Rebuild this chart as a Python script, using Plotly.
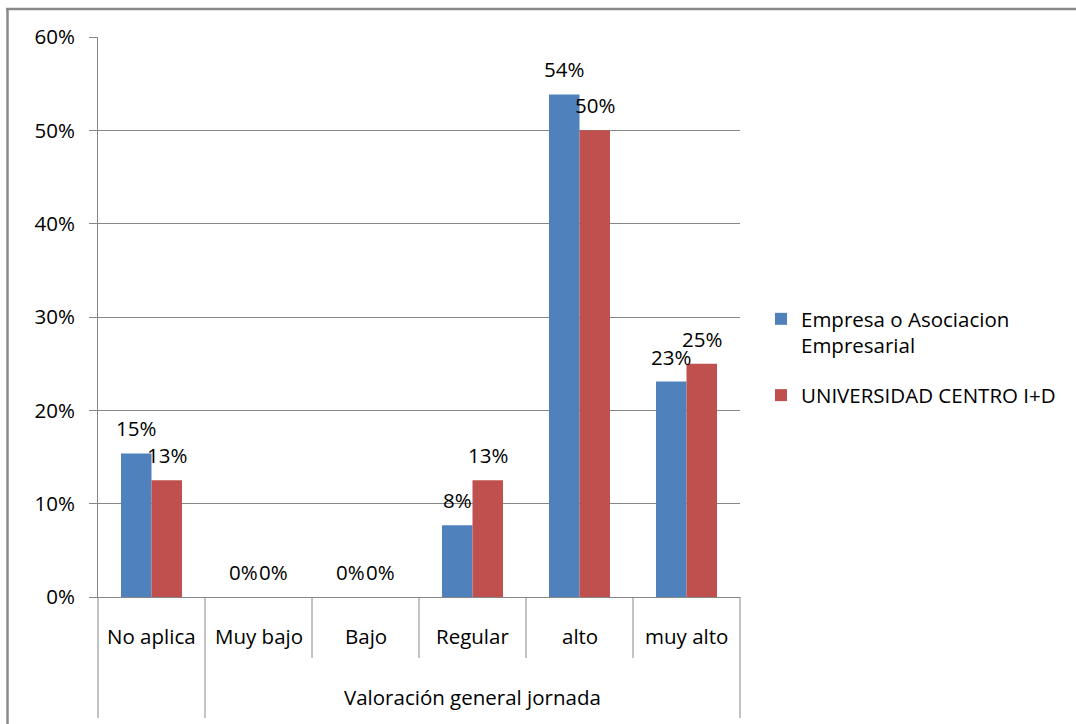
import plotly.graph_objects as go

# ---- data ----
categories = ["No aplica", "Muy bajo", "Bajo", "Regular", "alto", "muy alto"]
group_labels = ["", "Valoración general jornada"]
group_sizes = [1, 5]
series_names = ["Empresa o Asociacion<br>Empresarial", "UNIVERSIDAD CENTRO I+D"]
empresa = [0.1538, 0.0, 0.0, 0.0769, 0.5385, 0.2308]
universidad = [0.125, 0.0, 0.0, 0.125, 0.50, 0.25]
y_ticks = [0, 0.1, 0.2, 0.3, 0.4, 0.5, 0.6]

BLUE = "#4F81BD"
RED = "#C0504D"
GRID = "#868686"
FONT = "Open Sans"
FS = 20.5

W, H = 1076, 724
ML, MR, MT, MB = 98, 336, 37, 127
PW = W - ML - MR
PH = H - MT - MB


def px2paper_x(px):
    return (px - ML) / PW


def px2paper_y(py):
    return (H - MB - py) / PH


def pct(v):
    return f"{int(v * 100 + 0.5)}%"


fig = go.Figure()
for i, (name, vals, col) in enumerate([(series_names[0], empresa, BLUE), (series_names[1], universidad, RED)]):
    fig.add_trace(go.Bar(
        x=categories, y=vals, name=name, marker=dict(color=col, line=dict(width=0)),
        legendgroup=f"g{i}", hoverinfo="skip",
    ))

annotations = []
# data labels
bar_half = PW / len(categories) * (1 - 0.43) / 4
for vals, sh in [(empresa, -bar_half), (universidad, bar_half)]:
    for c, v in zip(categories, vals):
        annotations.append(dict(
            x=c, y=v, xref="x", yref="y", text=pct(v), showarrow=False,
            xshift=sh, yshift=25, yanchor="middle", xanchor="center",
            font=dict(family=FONT, size=FS, color="black"),
        ))

# category labels
for c in categories:
    annotations.append(dict(
        x=c, y=0, xref="x", yref="paper", text=c, showarrow=False,
        yshift=-39, yanchor="middle", xanchor="center",
        font=dict(family=FONT, size=FS, color="black"),
    ))

# group labels and separators
n = len(categories)
shapes = []
start = 0
short_y = px2paper_y(658)
long_y = px2paper_y(718)
line_style = dict(color=GRID, width=1)
for g, size in zip(group_labels, group_sizes):
    x0 = start / n
    x1 = (start + size) / n
    if g:
        annotations.append(dict(
            x=(x0 + x1) / 2, y=0, xref="paper", yref="paper", text=g, showarrow=False,
            yshift=-100, yanchor="middle", xanchor="center",
            font=dict(family=FONT, size=FS, color="black"),
        ))
    for k in range(start + 1, start + size):
        shapes.append(dict(type="line", xref="paper", yref="paper", x0=k / n, x1=k / n,
                           y0=0, y1=short_y, line=line_style))
    start += size
for k in [0] + [sum(group_sizes[:i + 1]) for i in range(len(group_sizes))]:
    shapes.append(dict(type="line", xref="paper", yref="paper", x0=k / n, x1=k / n,
                       y0=0, y1=long_y, line=line_style))

# chart frame (left and top border)
frame = dict(color="#8a8a8a", width=2.5)
shapes.append(dict(type="line", xref="paper", yref="paper", x0=px2paper_x(7.5), x1=px2paper_x(7.5),
                   y0=px2paper_y(8), y1=px2paper_y(H + 5), line=frame))
shapes.append(dict(type="line", xref="paper", yref="paper", x0=px2paper_x(6), x1=px2paper_x(W + 5),
                   y0=px2paper_y(9), y1=px2paper_y(9), line=frame))

fig.update_layout(
    width=W, height=H,
    margin=dict(l=ML, r=MR, t=MT, b=MB, pad=0),
    paper_bgcolor="white", plot_bgcolor="white",
    barmode="group", bargap=0.43, bargroupgap=0,
    font=dict(family=FONT, size=FS, color="black"),
    showlegend=True,
    legend=dict(
        x=px2paper_x(761), y=px2paper_y(299), xanchor="left", yanchor="top",
        valign="top", font=dict(family=FONT, size=FS, color="black"),
        bgcolor="rgba(0,0,0,0)", borderwidth=0, itemwidth=30,
        traceorder="grouped", tracegroupgap=20,
    ),
    xaxis=dict(
        type="category", showticklabels=False, ticks="", showgrid=False,
        showline=True, linecolor=GRID, linewidth=1, range=[-0.5, n - 0.5], fixedrange=True,
    ),
    yaxis=dict(
        range=[0, 0.6], tickvals=y_ticks, tickformat=".0%",
        showgrid=True, gridcolor=GRID, gridwidth=1,
        zeroline=True, zerolinecolor=GRID, zerolinewidth=1,
        showline=True, linecolor=GRID, linewidth=1,
        ticks="outside", ticklen=8, tickcolor=GRID, tickwidth=1,
        ticklabelstandoff=10,
        tickfont=dict(family=FONT, size=FS, color="black"), fixedrange=True,
    ),
    annotations=annotations,
    shapes=shapes,
)

fig.write_html("out.html", config={"displayModeBar": False},
               post_script="document.body.style.margin='0';")
